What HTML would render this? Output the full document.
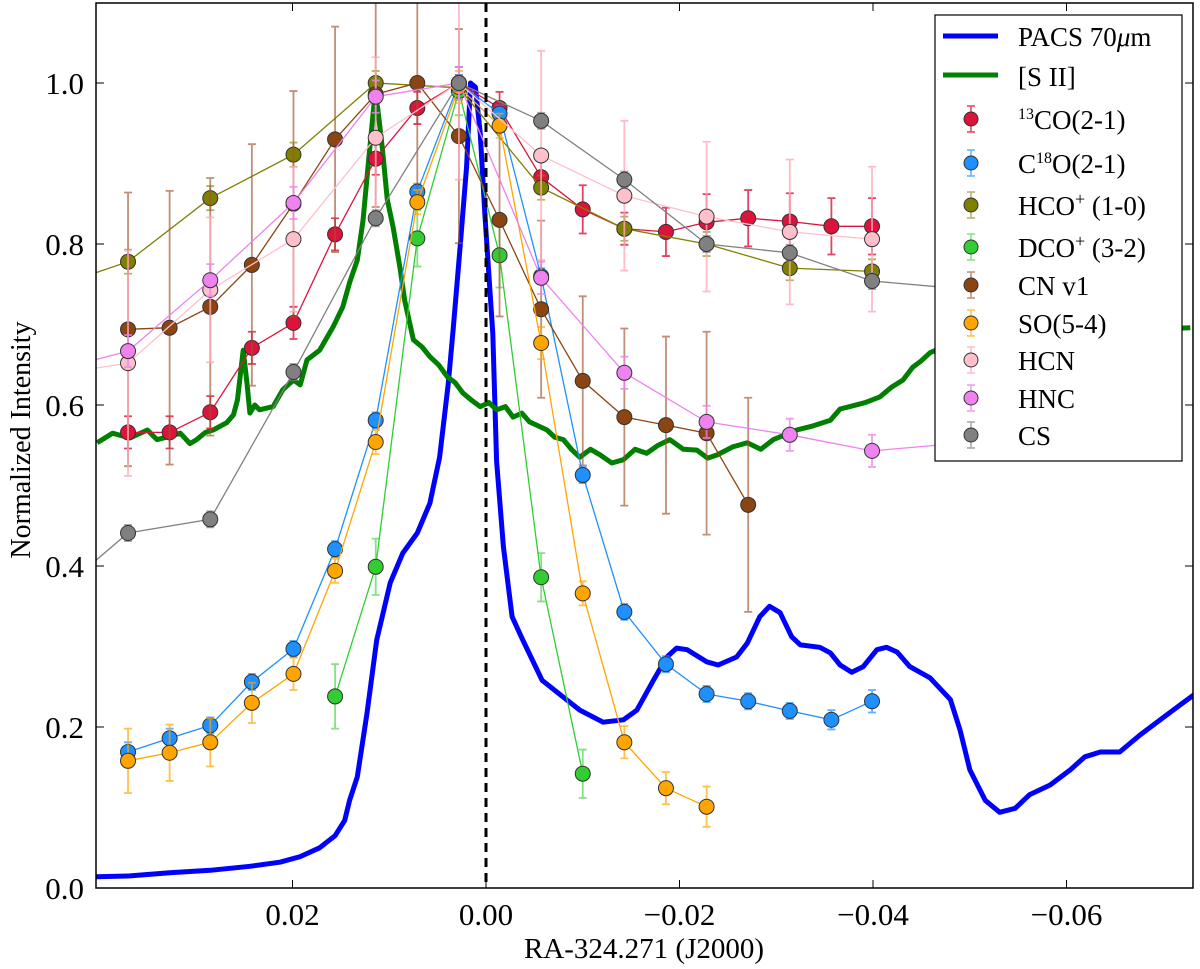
<!DOCTYPE html>
<html><head><meta charset="utf-8"><style>
html,body{margin:0;padding:0;background:#fff;}
svg{display:block;font-family:"Liberation Serif","DejaVu Serif",serif;}
</style></head><body>
<svg id="chart" width="1200" height="969" viewBox="0 0 1200 969">
<defs><clipPath id="plotclip"><rect x="96" y="3" width="1097" height="885"/></clipPath></defs>
<g id="plot" clip-path="url(#plotclip)"></g>
<g id="axes"></g>
<g id="legend"></g>
</svg>
<script>
// ---- axis ----
const xTicks = [0.02, 0.00, -0.02, -0.04, -0.06];
const xTickLabels = ["0.02", "0.00", "\u22120.02", "\u22120.04", "\u22120.06"];
const yTicks = [0.0, 0.2, 0.4, 0.6, 0.8, 1.0];
const yTickLabels = ["0.0", "0.2", "0.4", "0.6", "0.8", "1.0"];

// ---- PACS 70um ----
const pacsRa = [0.0403,0.0368,0.0327,0.0285,0.0244,0.0213,0.0192,0.0172,0.0156,0.0146,0.0141,0.0133,0.0123,0.0113,0.0099,0.0086,0.0071,0.0058,0.0048,0.0039,0.0034,0.0027,0.0020,0.0016,0.0011,0.0006,0.0001,-0.0007,-0.0011,-0.0018,-0.0027,-0.0038,-0.0058,-0.0080,-0.0097,-0.0121,-0.0142,-0.0156,-0.0173,-0.0187,-0.0197,-0.0208,-0.0228,-0.0240,-0.0259,-0.0270,-0.0283,-0.0293,-0.0304,-0.0316,-0.0325,-0.0345,-0.0356,-0.0366,-0.0378,-0.0390,-0.0404,-0.0414,-0.0425,-0.0438,-0.0459,-0.0480,-0.0490,-0.0500,-0.0516,-0.0531,-0.0547,-0.0562,-0.0583,-0.0604,-0.0619,-0.0635,-0.0655,-0.0676,-0.0697,-0.0717,-0.0734];
const pacsVal = [0.014,0.015,0.019,0.022,0.027,0.032,0.039,0.050,0.065,0.084,0.109,0.138,0.217,0.308,0.379,0.416,0.441,0.478,0.535,0.627,0.693,0.793,0.896,1.0,0.995,0.938,0.834,0.689,0.530,0.424,0.337,0.308,0.258,0.237,0.221,0.206,0.209,0.221,0.258,0.287,0.298,0.296,0.281,0.277,0.287,0.304,0.337,0.350,0.342,0.312,0.302,0.299,0.292,0.277,0.268,0.275,0.296,0.299,0.293,0.275,0.261,0.234,0.196,0.147,0.109,0.094,0.099,0.116,0.128,0.147,0.163,0.169,0.169,0.190,0.209,0.227,0.242];

// ---- [S II] ----
const siiRa = [0.0402,0.0386,0.0368,0.0350,0.0340,0.0330,0.0316,0.0306,0.0299,0.0290,0.0282,0.0268,0.0261,0.0257,0.0251,0.0247,0.0244,0.0239,0.0234,0.0220,0.0210,0.0199,0.0192,0.0185,0.0172,0.0158,0.0148,0.0141,0.0133,0.0127,0.0122,0.0118,0.0115,0.0112,0.0107,0.0102,0.0096,0.0089,0.0084,0.0075,0.0066,0.0058,0.0049,0.0040,0.0032,0.0024,0.0015,0.0006,-0.0003,-0.0011,-0.0020,-0.0028,-0.0037,-0.0045,-0.0054,-0.0063,-0.0071,-0.0080,-0.0089,-0.0097,-0.0108,-0.0118,-0.0130,-0.0142,-0.0154,-0.0166,-0.0178,-0.0190,-0.0204,-0.0218,-0.0229,-0.0239,-0.0255,-0.0270,-0.0284,-0.0297,-0.0309,-0.0321,-0.0338,-0.0356,-0.0366,-0.0376,-0.0392,-0.0407,-0.0419,-0.0431,-0.0441,-0.0450,-0.0459,-0.0490,-0.0531,-0.0728];
const siiVal = [0.553,0.565,0.559,0.569,0.557,0.560,0.565,0.552,0.557,0.566,0.569,0.578,0.588,0.606,0.668,0.627,0.590,0.600,0.594,0.598,0.619,0.631,0.625,0.656,0.668,0.697,0.722,0.752,0.780,0.830,0.896,0.945,0.983,0.970,0.917,0.855,0.821,0.771,0.730,0.681,0.672,0.660,0.650,0.635,0.628,0.615,0.606,0.598,0.603,0.594,0.598,0.585,0.590,0.579,0.574,0.569,0.560,0.557,0.544,0.535,0.545,0.538,0.528,0.532,0.545,0.540,0.550,0.557,0.545,0.544,0.534,0.538,0.548,0.553,0.545,0.557,0.563,0.569,0.574,0.581,0.595,0.598,0.603,0.610,0.622,0.631,0.647,0.655,0.665,0.681,0.687,0.696];

// ---- molecular lines ----
const coRa = [0.0370,0.0327,0.0285,0.0242,0.0199,0.0156,0.0114,0.0071,0.0028,-0.0014,-0.0057,-0.0100,-0.0143,-0.0186,-0.0228,-0.0271,-0.0314,-0.0357,-0.0399];
const coVal = [0.566,0.566,0.591,0.671,0.702,0.812,0.906,0.969,1.0,0.969,0.883,0.843,0.819,0.815,0.827,0.832,0.828,0.822,0.822];
const coErr = [0.02,0.02,0.02,0.02,0.02,0.02,0.02,0.02,0.02,0.02,0.02,0.03,0.02,0.03,0.035,0.035,0.035,0.035,0.035];

const c18Ra = [0.0370,0.0327,0.0285,0.0242,0.0199,0.0156,0.0114,0.0071,0.0028,-0.0014,-0.0057,-0.0100,-0.0143,-0.0186,-0.0228,-0.0271,-0.0314,-0.0357,-0.0399];
const c18Val = [0.169,0.186,0.202,0.256,0.297,0.421,0.581,0.865,1.0,0.962,0.760,0.513,0.343,0.278,0.241,0.232,0.220,0.209,0.232];
const c18Err = [0.012,0.012,0.01,0.01,0.01,0.01,0.01,0.01,0.01,0.01,0.01,0.01,0.01,0.01,0.01,0.01,0.01,0.012,0.014];

const hcoRa = [0.0455,0.0370,0.0285,0.0199,0.0114,0.0028,-0.0057,-0.0143,-0.0228,-0.0314,-0.0399];
const hcoVal = [0.743,0.778,0.857,0.911,1.0,0.994,0.870,0.819,0.800,0.770,0.766];
const hcoErr = [0.015,0.015,0.015,0.015,0.015,0.015,0.015,0.015,0.015,0.015,0.015];

const dcoRa = [0.0156,0.0114,0.0071,0.0028,-0.0014,-0.0057,-0.0100];
const dcoVal = [0.238,0.399,0.807,0.99,0.786,0.386,0.142];
const dcoErr = [0.04,0.035,0.035,0.03,0.04,0.03,0.03];

const cnRa = [0.0370,0.0327,0.0285,0.0242,0.0199,0.0156,0.0114,0.0071,0.0028,-0.0014,-0.0057,-0.0100,-0.0143,-0.0186,-0.0228,-0.0271];
const cnVal = [0.694,0.696,0.722,0.774,0.850,0.930,0.986,1.0,0.934,0.830,0.719,0.630,0.585,0.575,0.565,0.476];
const cnErr = [0.17,0.17,0.16,0.15,0.14,0.14,0.14,0.15,0.133,0.12,0.11,0.105,0.11,0.11,0.126,0.133];

const soRa = [0.0370,0.0327,0.0285,0.0242,0.0199,0.0156,0.0114,0.0071,0.0028,-0.0014,-0.0057,-0.0100,-0.0143,-0.0186,-0.0228];
const soVal = [0.158,0.168,0.181,0.230,0.266,0.394,0.554,0.852,0.995,0.947,0.677,0.366,0.181,0.124,0.101];
const soErr = [0.04,0.035,0.03,0.025,0.02,0.015,0.015,0.015,0.02,0.015,0.02,0.015,0.02,0.02,0.025];

const hcnRa = [0.0455,0.0370,0.0285,0.0199,0.0114,0.0028,-0.0057,-0.0143,-0.0228,-0.0314,-0.0399];
const hcnVal = [0.636,0.652,0.743,0.806,0.932,1.0,0.910,0.860,0.834,0.815,0.806];
const hcnErr = [0.09,0.14,0.09,0.09,0.1,0.12,0.13,0.093,0.093,0.09,0.09];

const hncRa = [0.0455,0.0370,0.0285,0.0199,0.0114,0.0028,-0.0057,-0.0143,-0.0228,-0.0314,-0.0399,-0.0485];
const hncVal = [0.64,0.667,0.755,0.851,0.983,1.0,0.758,0.640,0.579,0.563,0.543,0.552];
const hncErr = [0.02,0.02,0.02,0.02,0.02,0.02,0.02,0.02,0.02,0.02,0.02,0.02];

const csRa = [0.0455,0.0370,0.0285,0.0199,0.0114,0.0028,-0.0057,-0.0143,-0.0228,-0.0314,-0.0399,-0.0485];
const csVal = [0.354,0.441,0.458,0.641,0.832,1.0,0.953,0.880,0.800,0.789,0.754,0.745];
const csErr = [0.01,0.01,0.01,0.01,0.01,0.01,0.01,0.01,0.01,0.01,0.01,0.01];

const NS = "http://www.w3.org/2000/svg";
function xs(ra){ return 486 - ra * 9675; }
function ys(v){ return 888 - v * 805; }
function mk(tag, attrs, parent){
  const e = document.createElementNS(NS, tag);
  for (const k in attrs) e.setAttribute(k, attrs[k]);
  parent.appendChild(e);
  return e;
}
const plot = document.getElementById('plot');
const axes = document.getElementById('axes');
const legend = document.getElementById('legend');

function drawLine(ra, val, color, width, name){
  const pts = ra.map((r,i)=>xs(r).toFixed(1)+','+ys(val[i]).toFixed(1)).join(' ');
  const pl = mk('polyline', {points: pts, fill:'none', stroke:color, 'stroke-width':width, 'stroke-linejoin':'round'}, plot);
  
  
}
drawLine(pacsRa, pacsVal, '#0000ff', 5, 'pacs-70um-line');
drawLine(siiRa, siiVal, '#007f00', 5, 'sii-line');

function drawSeries(ra, val, err, color, errColor, key){
  const g = mk('g', {}, plot);
  
  
  const pts = ra.map((r,i)=>xs(r).toFixed(1)+','+ys(val[i]).toFixed(1)).join(' ');
  const pl = mk('polyline', {points: pts, fill:'none', stroke:color, 'stroke-width':1.3}, g);
  
  
  ra.forEach((r,i)=>{
    const x = xs(r), y1 = ys(val[i]+err[i]), y2 = ys(val[i]-err[i]);
    const eb = mk('path', {d:`M${x},${y1}V${y2}M${x-4},${y1}H${x+4}M${x-4},${y2}H${x+4}`, stroke:errColor, 'stroke-width':1.8, fill:'none'}, g);
    
    
  });
  ra.forEach((r,i)=>{
    const c = mk('circle', {cx:xs(r), cy:ys(val[i]), r:7.5, fill:color, stroke:'#333', 'stroke-width':1}, g);
    
    
  });
}
drawSeries(coRa, coVal, coErr, '#dc143c', 'rgba(220,20,60,0.8)', 'co13');
drawSeries(c18Ra, c18Val, c18Err, '#1e90ff', 'rgba(30,144,255,0.7)', 'c18o');
drawSeries(hcoRa, hcoVal, hcoErr, '#808000', 'rgba(128,128,0,0.6)', 'hco');
drawSeries(dcoRa, dcoVal, dcoErr, '#32cd32', 'rgba(50,205,50,0.6)', 'dco');
drawSeries(cnRa, cnVal, cnErr, '#8b4513', 'rgba(160,82,45,0.65)', 'cn-v1');
drawSeries(soRa, soVal, soErr, '#ffa500', 'rgba(255,165,0,0.7)', 'so');
drawSeries(hcnRa, hcnVal, hcnErr, '#ffc0cb', 'rgba(255,170,185,0.8)', 'hcn');
drawSeries(hncRa, hncVal, hncErr, '#ee82ee', 'rgba(238,130,238,0.8)', 'hnc');
drawSeries(csRa, csVal, csErr, '#808080', 'rgba(128,128,128,0.7)', 'cs');

// zero line
const zl = mk('line', {x1:xs(0), x2:xs(0), y1:3, y2:888, stroke:'#000', 'stroke-width':3, 'stroke-dasharray':'9,6'}, plot);



// frame
const fr = mk('rect', {x:96, y:3, width:1097, height:885, fill:'none', stroke:'#000', 'stroke-width':1.5}, axes);


xTicks.forEach((t,i)=>{
  const x = xs(t);
  const tk = mk('path', {d:`M${x},888v-8M${x},3v8`, stroke:'#000', 'stroke-width':1}, axes);
  
  
  const tx = mk('text', {x:x, y:925, 'text-anchor':'middle', 'font-size':31}, axes);
  tx.textContent = xTickLabels[i];
  
  
});
yTicks.forEach((t,i)=>{
  const y = ys(t);
  const tk = mk('path', {d:`M96,${y}h8M1193,${y}h-8`, stroke:'#000', 'stroke-width':1}, axes);
  
  
  const tx = mk('text', {x:84, y:y+11, 'text-anchor':'end', 'font-size':31}, axes);
  tx.textContent = yTickLabels[i];
  
  
});
const xt = mk('text', {x:644, y:958, 'text-anchor':'middle', 'font-size':29}, axes);
xt.textContent = 'RA-324.271 (J2000)';


const yt = mk('text', {x:0, y:0, 'text-anchor':'middle', 'font-size':28, transform:'translate(30,440) rotate(-90)'}, axes);
yt.textContent = 'Normalized Intensity';



// legend
const lb = mk('rect', {x:935, y:15, width:247, height:446, fill:'#fff', stroke:'#000', 'stroke-width':1.2}, legend);


const legLines = [['PACS 70','#0000ff',36,'legend-entry-pacs'],['[S II]','#007f00',75,'legend-entry-sii']];
legLines.forEach(d=>{
  const l = mk('line', {x1:943, x2:998, y1:d[2], y2:d[2], stroke:d[1], 'stroke-width':5}, legend);
  
  
});
const t1 = mk('text', {x:1018, y:46, 'font-size':27}, legend);
t1.innerHTML = 'PACS 70<tspan font-style="italic">μ</tspan>m';


const t2 = mk('text', {x:1018, y:86, 'font-size':27}, legend);
t2.textContent = '[S II]';


const legMarkers = [
  ['#dc143c','rgba(220,20,60,0.8)',119,'<tspan font-size="16" dy="-10">13</tspan><tspan dy="10">CO(2-1)</tspan>','legend-entry-co13'],
  ['#1e90ff','rgba(30,144,255,0.7)',163,'C<tspan font-size="16" dy="-10">18</tspan><tspan dy="10">O(2-1)</tspan>','legend-entry-c18o'],
  ['#808000','rgba(128,128,0,0.6)',205,'HCO<tspan font-size="18" dy="-10">+</tspan><tspan dy="10"> (1-0)</tspan>','legend-entry-hco'],
  ['#32cd32','rgba(50,205,50,0.6)',247,'DCO<tspan font-size="18" dy="-10">+</tspan><tspan dy="10"> (3-2)</tspan>','legend-entry-dco'],
  ['#8b4513','rgba(160,82,45,0.65)',285,'CN v1','legend-entry-cn'],
  ['#ffa500','rgba(255,165,0,0.7)',323,'SO(5-4)','legend-entry-so'],
  ['#ffc0cb','rgba(255,170,185,0.8)',360,'HCN','legend-entry-hcn'],
  ['#ee82ee','rgba(238,130,238,0.8)',398,'HNC','legend-entry-hnc'],
  ['#808080','rgba(128,128,128,0.7)',435,'CS','legend-entry-cs']
];
legMarkers.forEach(d=>{
  const y = d[2];
  const eb = mk('path', {d:`M971,${y-13}V${y+13}M967,${y-13}H975M967,${y+13}H975`, stroke:d[1], 'stroke-width':1.5, fill:'none'}, legend);
  
  
  const c = mk('circle', {cx:971, cy:y, r:7, fill:d[0], stroke:'#333', 'stroke-width':1}, legend);
  
  
  const t = mk('text', {x:1018, y:y+10, 'font-size':27}, legend);
  t.innerHTML = d[3];
  
  
});
</script>
</body></html>
